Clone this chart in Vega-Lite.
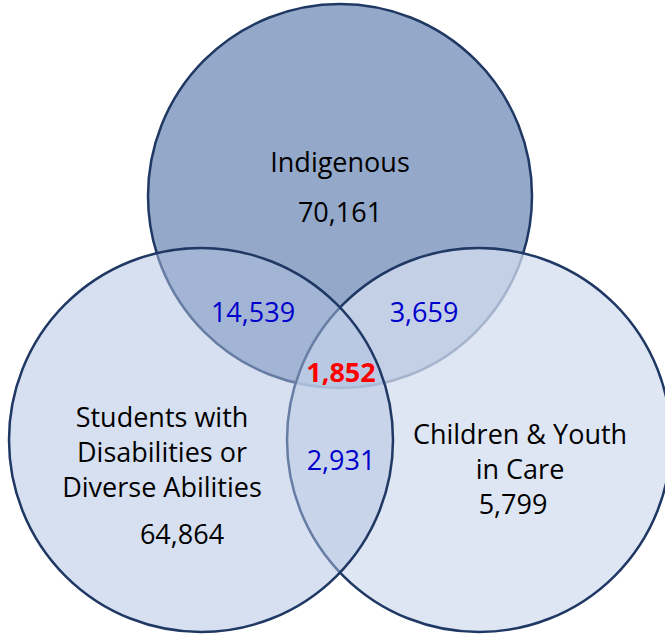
{
  "$schema": "https://vega.github.io/schema/vega-lite/v6.json",
  "width": 665,
  "height": 635,
  "padding": 0,
  "autosize": {"type": "none"},
  "background": "white",
  "config": {"view": {"stroke": null}},
  "datasets": {
    "circles": [
      {"set": "Indigenous", "cx": 340, "cy": 196},
      {"set": "Children & Youth in Care", "cx": 479, "cy": 440},
      {"set": "Students with Disabilities or Diverse Abilities", "cx": 201, "cy": 440}
    ],
    "labels": [
      {"text": "Indigenous", "kind": "name", "x": 340, "y": 172},
      {"text": "70,161", "kind": "name", "x": 340, "y": 222},
      {"text": "Students with\nDisabilities or\nDiverse Abilities", "kind": "name", "x": 162, "y": 427},
      {"text": "64,864", "kind": "name", "x": 182, "y": 544},
      {"text": "Children & Youth\nin Care", "kind": "name", "x": 520, "y": 444},
      {"text": "5,799", "kind": "name", "x": 513, "y": 514},
      {"text": "14,539", "kind": "pair", "x": 253, "y": 322},
      {"text": "3,659", "kind": "pair", "x": 424, "y": 322},
      {"text": "2,931", "kind": "pair", "x": 341, "y": 470},
      {"text": "1,852", "kind": "all", "x": 341, "y": 382}
    ]
  },
  "encoding": {
    "x": {"type": "quantitative", "scale": {"domain": [0, 665], "nice": false, "zero": false}, "axis": null},
    "y": {"type": "quantitative", "scale": {"domain": [0, 635], "nice": false, "zero": false, "reverse": true}, "axis": null}
  },
  "layer": [
    {
      "data": {"name": "circles"},
      "mark": {"type": "point", "shape": "circle", "filled": true, "size": 147456, "stroke": "#1f3864", "strokeWidth": 2.5, "opacity": 1, "strokeOpacity": 1},
      "encoding": {
        "x": {"field": "cx"},
        "y": {"field": "cy"},
        "color": {"field": "set", "type": "nominal", "legend": null,
          "scale": {"domain": ["Indigenous", "Children & Youth in Care", "Students with Disabilities or Diverse Abilities"],
                    "range": ["#94a8c9", "#d3ddef", "#afc1e1"]}},
        "fillOpacity": {"field": "set", "type": "nominal", "legend": null,
          "scale": {"domain": ["Indigenous", "Children & Youth in Care", "Students with Disabilities or Diverse Abilities"],
                    "range": [1, 0.5, 0.5]}}
      }
    },
    {
      "data": {"name": "labels"},
      "transform": [{"filter": "datum.kind === 'name'"}],
      "mark": {"type": "text", "font": "Open Sans", "fontSize": 27, "align": "center", "baseline": "alphabetic", "lineBreak": "\n", "lineHeight": 35, "color": "#000000"},
      "encoding": {"x": {"field": "x"}, "y": {"field": "y"}, "text": {"field": "text"}}
    },
    {
      "data": {"name": "labels"},
      "transform": [{"filter": "datum.kind === 'pair'"}],
      "mark": {"type": "text", "font": "Open Sans", "fontSize": 27, "align": "center", "baseline": "alphabetic", "color": "#0000cc"},
      "encoding": {"x": {"field": "x"}, "y": {"field": "y"}, "text": {"field": "text"}}
    },
    {
      "data": {"name": "labels"},
      "transform": [{"filter": "datum.kind === 'all'"}],
      "mark": {"type": "text", "font": "Open Sans", "fontSize": 27, "fontWeight": "bold", "align": "center", "baseline": "alphabetic", "color": "#ff0000"},
      "encoding": {"x": {"field": "x"}, "y": {"field": "y"}, "text": {"field": "text"}}
    }
  ]
}
